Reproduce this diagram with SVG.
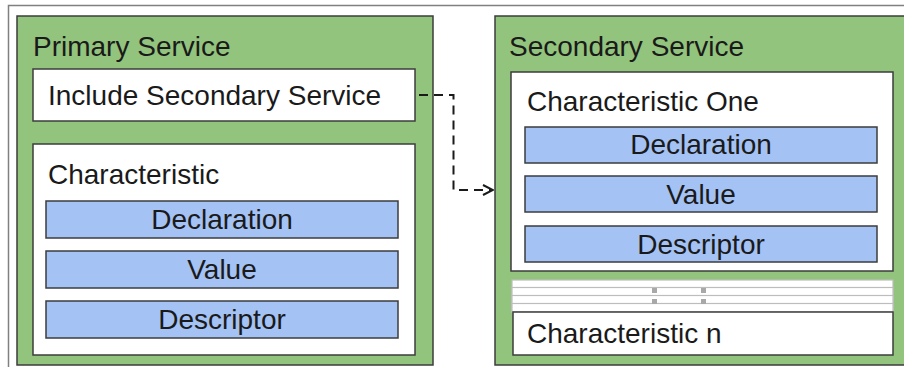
<svg xmlns="http://www.w3.org/2000/svg" width="904" height="367" viewBox="0 0 904 367">
  <style>
    .frame { fill: none; stroke: #808080; stroke-width: 1.5; }
    .svc { fill: #93c47d; stroke: #3d3d3d; stroke-width: 1.5; }
    .box { fill: #ffffff; stroke: #3d3d3d; stroke-width: 1.5; }
    .bar { fill: #a4c2f4; stroke: #3d3d3d; stroke-width: 1.5; }
    .stack { fill: #ffffff; stroke: #bdbdbd; stroke-width: 1.2; }
    .dot { fill: #a8a8a8; }
    text { font-family: "Liberation Sans", Arial, sans-serif; font-size: 28px; fill: #1a1a1a; }
    .mid { text-anchor: middle; }
    .link { fill: none; stroke: #1a1a1a; stroke-width: 2; stroke-dasharray: 9 6; }
  </style>
  <defs>
    <marker id="open-arrow" viewBox="0 0 12 12" refX="11" refY="6" markerWidth="12" markerHeight="12" markerUnits="userSpaceOnUse" orient="auto">
      <path d="M1,1 L11,6 L1,11" fill="none" stroke="#1a1a1a" stroke-width="2"/>
    </marker>
  </defs>

  <!-- outer page frame -->
  <path class="frame" d="M8.5,367 V5.5 H904"/>

  <!-- primary service -->
  <g id="primary-service">
    <rect class="svc" x="17" y="16" width="416" height="349"/>
    <text x="33" y="56">Primary Service</text>
  </g>
  <g id="include-secondary">
    <rect class="box" x="33" y="69" width="382" height="52"/>
    <text x="48" y="105">Include Secondary Service</text>
  </g>
  <g id="characteristic">
    <rect class="box" x="33" y="144" width="382" height="211"/>
    <text x="48" y="184">Characteristic</text>
  </g>
  <g id="p-declaration">
    <rect class="bar" x="46" y="201" width="352" height="37"/>
    <text class="mid" x="222" y="229">Declaration</text>
  </g>
  <g id="p-value">
    <rect class="bar" x="46" y="251" width="352" height="37"/>
    <text class="mid" x="222" y="279">Value</text>
  </g>
  <g id="p-descriptor">
    <rect class="bar" x="46" y="301" width="352" height="37"/>
    <text class="mid" x="222" y="329">Descriptor</text>
  </g>

  <!-- secondary service -->
  <g id="secondary-service">
    <rect class="svc" x="495" y="16" width="420" height="349"/>
    <text x="509" y="56">Secondary Service</text>
  </g>
  <g id="characteristic-one">
    <rect class="box" x="511" y="72" width="382" height="199"/>
    <text x="527" y="111">Characteristic One</text>
  </g>
  <g id="s-declaration">
    <rect class="bar" x="525" y="127" width="352" height="36"/>
    <text class="mid" x="701" y="154">Declaration</text>
  </g>
  <g id="s-value">
    <rect class="bar" x="525" y="176" width="352" height="36"/>
    <text class="mid" x="701" y="204">Value</text>
  </g>
  <g id="s-descriptor">
    <rect class="bar" x="525" y="226" width="352" height="36"/>
    <text class="mid" x="701" y="254">Descriptor</text>
  </g>

  <!-- stacked placeholder characteristics -->
  <g id="ellipsis-stack">
    <rect class="stack" x="512" y="280" width="381" height="32"/>
    <rect class="stack" x="512" y="287.5" width="381" height="24.5"/>
    <rect class="stack" x="512" y="295.5" width="381" height="16.5"/>
    <rect class="stack" x="512" y="303.5" width="381" height="8.5"/>
    <rect class="dot" x="652" y="288" width="5" height="5"/>
    <rect class="dot" x="652" y="299" width="5" height="5"/>
    <rect class="dot" x="701" y="288" width="5" height="5"/>
    <rect class="dot" x="701" y="299" width="5" height="5"/>
  </g>
  <g id="characteristic-n">
    <rect class="box" x="513" y="312" width="380" height="43"/>
    <text x="527" y="343">Characteristic n</text>
  </g>

  <!-- include reference -->
  <g id="connectors">
    <path class="link" d="M419,95 H453.5 V190 H493" marker-end="url(#open-arrow)"/>
  </g>
</svg>
